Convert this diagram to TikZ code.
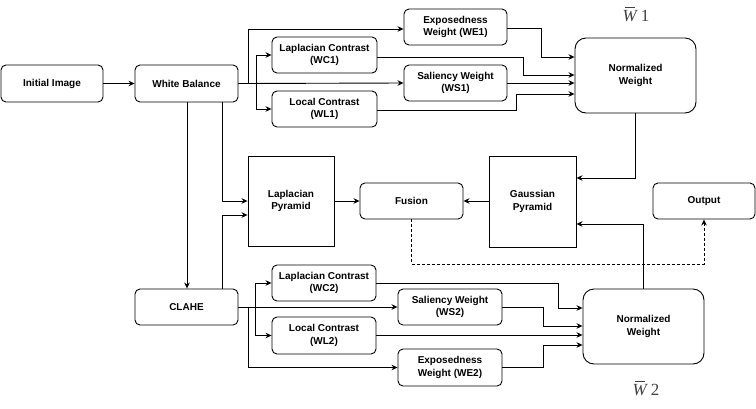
\documentclass[tikz,border=0pt]{standalone}
\usepackage{fontspec}
\setmainfont{Liberation Sans}
\newfontfamily\wfont{Liberation Serif}
\usetikzlibrary{arrows.meta,calc}
\begin{document}
\begin{tikzpicture}[x=1pt,y=-1pt,
  every node/.style={font=\fontsize{10}{12.5}\selectfont\bfseries, align=center, inner sep=0pt},
  rbox/.style={draw, line width=0.9pt, rounded corners=5pt, minimum width=103pt, minimum height=36pt},
  bigbox/.style={draw, line width=0.9pt, rounded corners=11pt, minimum width=121pt, minimum height=75pt},
  sqbox/.style={draw, line width=0.9pt, minimum width=86pt, minimum height=90pt},
  arr/.style={line width=0.9pt, -{Stealth[length=6pt,width=5.5pt]}},
  wlabel/.style={font=\fontsize{17}{19}\selectfont\wfont, text=black!75},
  wbar/.style={draw=black!75, line width=0.7pt}
]
\useasboundingbox (0,0) rectangle (756,408);

% top row
\node[rbox, minimum width=102pt, minimum height=37pt] (ii) at (52,83.5) {Initial Image};
\node[rbox, minimum height=37pt] (wb) at (186.5,83.5) {White Balance};
\node[rbox] (we1) at (455.5,27) {Exposedness\\Weight (WE1)};
\node[rbox, minimum width=105pt] (wc1) at (324.5,55) {Laplacian Contrast\\(WC1)};
\node[rbox] (ws1) at (455.5,83) {Saliency Weight\\(WS1)};
\node[rbox, minimum width=105pt] (wl1) at (324.5,109) {Local Contrast\\(WL1)};
\node[bigbox] (nw1) at (635.5,75.5) {Normalized\\Weight};
\node[wlabel] (w1) at (636,16) {\textit{W}\,1};
\draw[wbar] ($(w1.north west)+(2.5,-2.5)$) -- ++(10,0);

% middle row
\node[sqbox] (lp) at (291,201) {Laplacian\\Pyramid};
\node[rbox] (fu) at (411.5,201) {Fusion};
\node[sqbox, minimum width=87pt, minimum height=91pt] (gp) at (532.5,201.5) {Gaussian\\Pyramid};
\node[rbox, minimum width=102pt] (out) at (704,201) {Output};

% bottom row
\node[rbox] (cl) at (186.5,307) {CLAHE};
\node[rbox, minimum width=104pt] (wc2) at (324,283) {Laplacian Contrast\\(WC2)};
\node[rbox, minimum width=104pt, minimum height=37pt] (wl2) at (324,335.5) {Local Contrast\\(WL2)};
\node[rbox, minimum width=104pt] (ws2) at (450,307) {Saliency Weight\\(WS2)};
\node[rbox, minimum width=104pt, minimum height=37pt] (we2) at (450,367.5) {Exposedness\\Weight (WE2)};
\node[bigbox] (nw2) at (643.5,326.5) {Normalized\\Weight};
\node[wlabel] (w2) at (646,390) {\textit{W}\,2};
\draw[wbar] ($(w2.north west)+(2.5,-2.5)$) -- ++(10,0);

% connectors top
\draw[arr] (ii.east) -- (wb.west);
\draw[arr] (wb.east) -- (ws1.west);
\draw[arr] (wb.east) -| (248,29) -- (we1.west |- 0,29);
\draw[arr] (256,83.5) |- (wc1.west);
\draw[arr] (256,83.5) |- (wl1.west);
\draw[arr] (we1.east |- 0,28) -| (541,57) -- (nw1.west |- 0,57);
\draw[arr] (wc1.east |- 0,57) -| (523,75) -- (nw1.west |- 0,75);
\draw[arr] (ws1.east) -- (nw1.west |- ws1.east);
\draw[arr] (wl1.east |- 0,110) -| (516,94) -- (nw1.west |- 0,94);

% middle
\draw[arr] (nw1.south) |- (gp.east |- 0,178);
\draw[arr] (gp.west |- fu.east) -- (fu.east);
\draw[arr] (lp.east |- fu.west) -- (fu.west);
\draw[arr, dash pattern=on 3pt off 2pt] (fu.south) |- (704,264) -- (out.south);
\draw[arr] (nw2.north -| 643,0) |- (gp.east |- 0,224);
\draw[arr] (wb.south -| 222,0) |- (lp.west |- 0,201);
\draw[arr] (cl.north -| 222,0) |- (lp.west |- 0,215);
\draw[arr] (wb.south -| 187,0) -- (cl.north -| 187,0);

% connectors bottom
\draw[arr] (cl.east) -- (ws2.west);
\draw[arr] (255,307) |- (wc2.west);
\draw[arr] (255,307) |- (wl2.west);
\draw[arr] (248,307) |- (we2.west);
\draw[arr] (wc2.east) -| (558,308) -- (nw2.west |- 0,308);
\draw[arr] (ws2.east) -| (543,326) -- (nw2.west |- 0,326);
\draw[arr] (wl2.east |- 0,335) -- (nw2.west |- 0,335);
\draw[arr] (we2.east) -| (543,345) -- (nw2.west |- 0,345);
\end{tikzpicture}
\end{document}
